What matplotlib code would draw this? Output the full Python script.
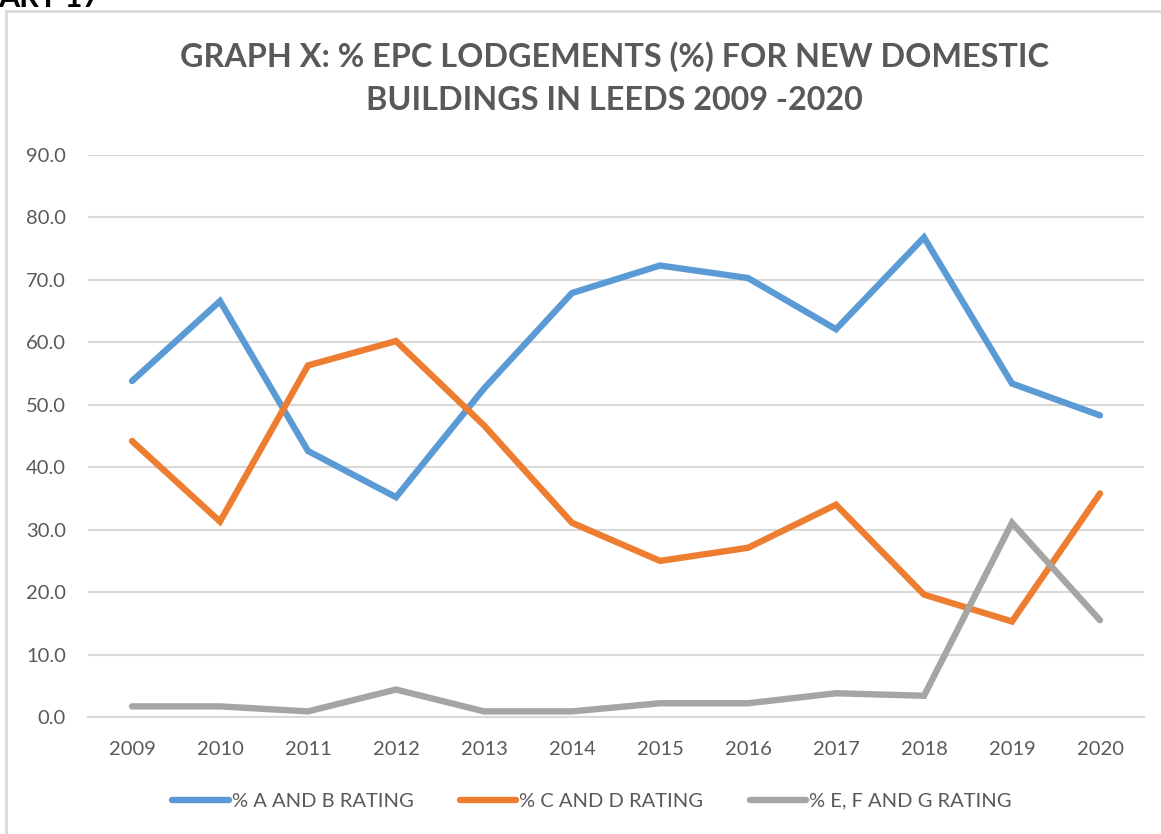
import matplotlib
matplotlib.use("Agg")
import matplotlib.pyplot as plt
from matplotlib.patches import Rectangle

years = ["2009", "2010", "2011", "2012", "2013", "2014",
         "2015", "2016", "2017", "2018", "2019", "2020"]
a_and_b = [53.8, 66.6, 42.6, 35.2, 52.6, 67.9, 72.3, 70.3, 62.1, 76.8, 53.4, 48.3]
c_and_d = [44.2, 31.3, 56.3, 60.2, 46.7, 31.1, 25.0, 27.1, 34.0, 19.6, 15.3, 35.8]
e_f_g = [1.7, 1.7, 0.9, 4.4, 0.9, 0.9, 2.2, 2.2, 3.8, 3.4, 31.1, 15.5]

series_names = ["% A AND B RATING", "% C AND D RATING", "% E, F AND G RATING"]
colors = ["#5B9BD5", "#ED7D31", "#A5A5A5"]
text_grey = "#595959"

plt.rcParams['font.family'] = ['Lato', 'DejaVu Sans']

W, H = 1161, 834
fig = plt.figure(figsize=(W / 100, H / 100), dpi=100)

# chart border (cropped on the right and bottom)
fig.patches.append(Rectangle((6 / W, -0.05), 1.1, 1 - 11 / H + 0.05,
                             transform=fig.transFigure, fill=False,
                             edgecolor="#D9D9D9", linewidth=2))

# clipped caption above the chart
fig.text(-2 / W, 1 - 7 / H, "ART 17", fontsize=22, fontweight="bold",
         color="black", ha="left", va="baseline")

ax = fig.add_axes([88 / W, 1 - 717 / H, (1144 - 88) / W, (717 - 155) / H])
x = list(range(len(years)))
for vals, name, col in zip([a_and_b, c_and_d, e_f_g], series_names, colors):
    ax.plot(x, vals, color=col, linewidth=4.6, label=name,
            solid_capstyle="round", solid_joinstyle="miter")

ax.set_xlim(-0.5, len(years) - 0.5)
ax.set_ylim(0, 90)
ax.set_yticks(range(0, 91, 10))
ax.set_yticklabels([f"{v:.1f}" for v in range(0, 91, 10)])
ax.set_xticks(x)
ax.set_xticklabels(years)
ax.grid(axis="y", color="#D9D9D9", linewidth=1.5)
ax.set_axisbelow(True)
for s in ["top", "right", "left"]:
    ax.spines[s].set_visible(False)
ax.spines["bottom"].set_color("#D9D9D9")
ax.spines["bottom"].set_linewidth(1.5)
ax.tick_params(axis="both", length=0, labelsize=14.5, colors=text_grey)
ax.tick_params(axis="y", pad=16)
ax.tick_params(axis="x", pad=17)

fig.text(614 / W, 1 - 57 / H, "GRAPH X: % EPC LODGEMENTS (%) FOR NEW DOMESTIC",
         fontsize=23.3, fontweight="bold", color=text_grey, ha="center", va="center")
fig.text(614 / W, 1 - 101 / H, "BUILDINGS IN LEEDS 2009 -2020",
         fontsize=23.3, fontweight="bold", color=text_grey, ha="center", va="center")

leg = fig.legend(loc="center", bbox_to_anchor=(592 / W, 1 - 801 / H), ncol=3,
                 frameon=False, fontsize=14.5, handlelength=2.8,
                 handletextpad=0.15, columnspacing=2.3)
for t in leg.get_texts():
    t.set_color(text_grey)

fig.savefig("out.png", dpi=100)
